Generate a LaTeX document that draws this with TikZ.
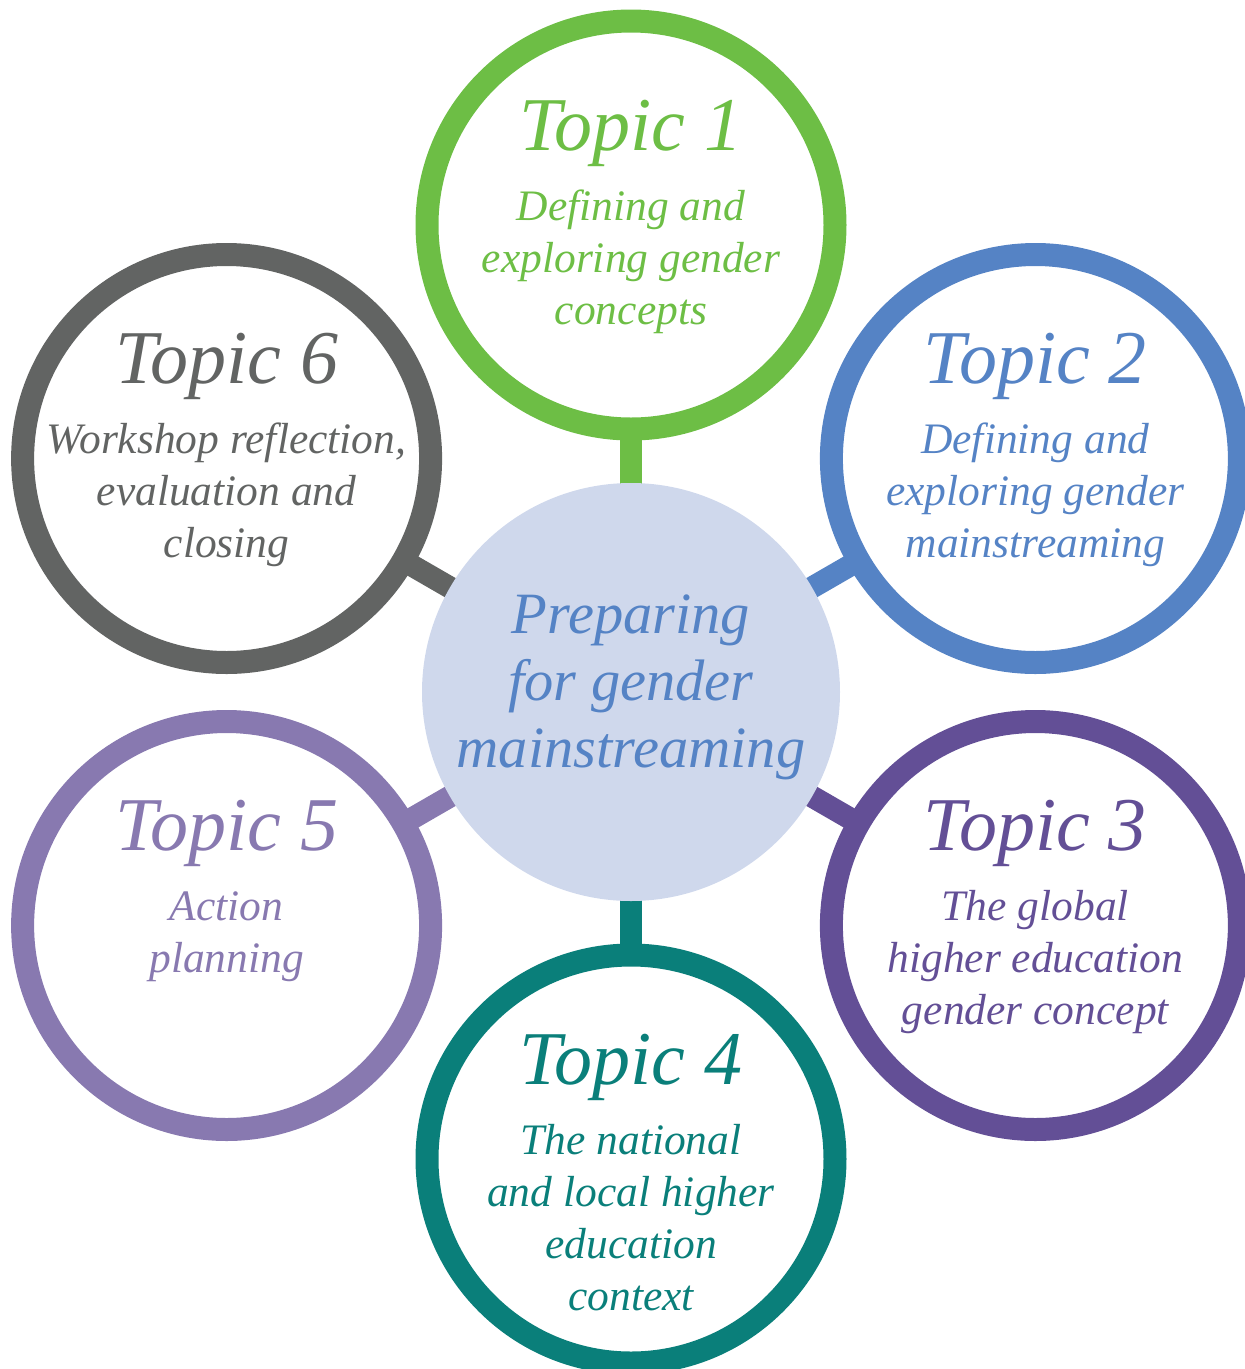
\documentclass[tikz,border=0pt]{standalone}
\usepackage{fontspec}
\setmainfont{Liberation Serif}
\usetikzlibrary{backgrounds}
\definecolor{cgreen}{HTML}{6DBE45}
\definecolor{cblue}{HTML}{5583C5}
\definecolor{cpurple}{HTML}{634F96}
\definecolor{cteal}{HTML}{0A7F7A}
\definecolor{clav}{HTML}{8879B0}
\definecolor{cgray}{HTML}{626463}
\definecolor{cfill}{HTML}{CFD8EC}
\tikzset{
  ring/.style={circle, draw=#1, line width=23pt, minimum size=408pt, inner sep=0pt},
  hub/.style={circle, fill=cfill, minimum size=418pt, inner sep=0pt},
  link/.style={line width=22pt, draw=#1, shorten >=-6pt},
  ttl/.style={font=\fontsize{76}{84}\selectfont\itshape, text=#1, anchor=base, inner sep=0pt},
  sub/.style={font=\fontsize{43.5}{52}\selectfont\itshape, text=#1, align=center, anchor=base, inner sep=0pt},
  hubtext/.style={font=\fontsize{58.5}{67}\selectfont\itshape, text=cblue, align=center, anchor=base, inner sep=0pt}
}
\begin{document}
\begin{tikzpicture}[x=1pt,y=-1pt]
\useasboundingbox (0,0) rectangle (1245,1369);
\clip (0,0) rectangle (1245,1369);
% hub
\node[hub] (C) at (631,692) {};
% rings
\node[ring=cgreen]  (T1) at (631,225) {};
\node[ring=cblue]   (T2) at (1035.4,458.5) {};
\node[ring=cpurple] (T3) at (1035.4,925.5) {};
\node[ring=cteal]   (T4) at (631,1159) {};
\node[ring=clav]    (T5) at (226.6,925.5) {};
\node[ring=cgray]   (T6) at (226.6,458.5) {};
% connectors
\begin{scope}[on background layer]
\draw[link=cgreen]  (C.center) -- (T1);
\draw[link=cblue]   (C.center) -- (T2);
\draw[link=cpurple] (C.center) -- (T3);
\draw[link=cteal]   (C.center) -- (T4);
\draw[link=clav]    (C.center) -- (T5);
\draw[link=cgray]   (C.center) -- (T6);
\end{scope}
% hub text (anchor = baseline of last line)
\node[hubtext] (Ct) at (631,767) {Preparing\\for gender\\mainstreaming};
% titles
\node[ttl=cgreen]  (L1) at (631,150) {Topic 1};
\node[ttl=cblue]   (L2) at (1035.4,383.5) {Topic 2};
\node[ttl=cpurple] (L3) at (1035.4,850.5) {Topic 3};
\node[ttl=cteal]   (L4) at (631,1084) {Topic 4};
\node[ttl=clav]    (L5) at (226.6,850.5) {Topic 5};
\node[ttl=cgray]   (L6) at (226.6,383.5) {Topic 6};
% subtitles (anchor = baseline of last line)
\node[sub=cgreen]  (S1) at (631,324) {Defining and\\exploring gender\\concepts};
\node[sub=cblue]   (S2) at (1035.4,557.5) {Defining and\\exploring gender\\mainstreaming};
\node[sub=cpurple] (S3) at (1035.4,1024.5) {The global\\higher education\\gender concept};
\node[sub=cteal]   (S4) at (631,1310) {The national\\and local higher\\education\\context};
\node[sub=clav]    (S5) at (226.6,972.5) {Action\\planning};
\node[sub=cgray]   (S6) at (226.6,557.5) {Workshop reflection,\\evaluation and\\closing};
\end{tikzpicture}
\end{document}
